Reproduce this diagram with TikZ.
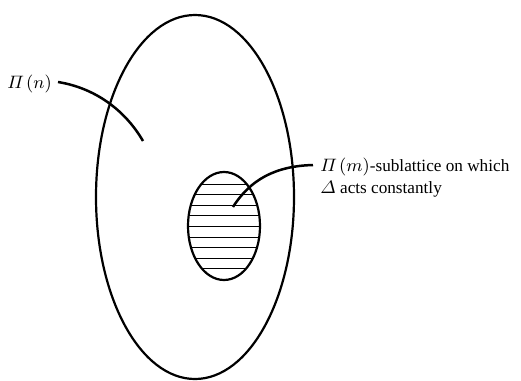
\documentclass[tikz,border=0pt]{standalone}
\usepackage{amsmath}
\usepackage{fontspec}
\setmainfont{Liberation Serif}
\begin{document}
\begin{tikzpicture}[x=0.5pt,y=-0.5pt,
  outline/.style={line width=1.1pt},
  hatch/.style={line width=0.5pt},
  leader/.style={line width=1.25pt},
  lbl/.style={font=\fontsize{8.6}{11}\selectfont, inner sep=0pt}]
\useasboundingbox (0,0) rectangle (521,381);
% big ellipse
\draw[outline] (195,197) ellipse [x radius=99, y radius=182];
% small ellipse with hatching
\begin{scope}
  \clip (224,226) ellipse [x radius=36, y radius=54];
  \foreach \yy in {184,194.6,...,275} \draw[hatch] (180,\yy) -- (270,\yy);
\end{scope}
\draw[outline] (224,226) ellipse [x radius=36, y radius=54];
% labels
\node[lbl, anchor=base west] (pn) at (7,88) {$\varPi\mkern2mu(n)$};
\node[lbl, anchor=base west, align=left] (pm) at (320,193) {$\varPi\mkern2mu(m)$-sublattice on which\\$\varDelta$ acts constantly};
\coordinate (pnend) at (143,141);
\coordinate (pnstart) at (58,82);
\coordinate (pmend) at (233,207);
\coordinate (pmstart) at (313,165);
\draw[leader] (pnstart) .. controls (95,88) and (125,110) .. (pnend);
\draw[leader] (pmend) .. controls (250,180) and (275,166) .. (pmstart);
\end{tikzpicture}
\end{document}
